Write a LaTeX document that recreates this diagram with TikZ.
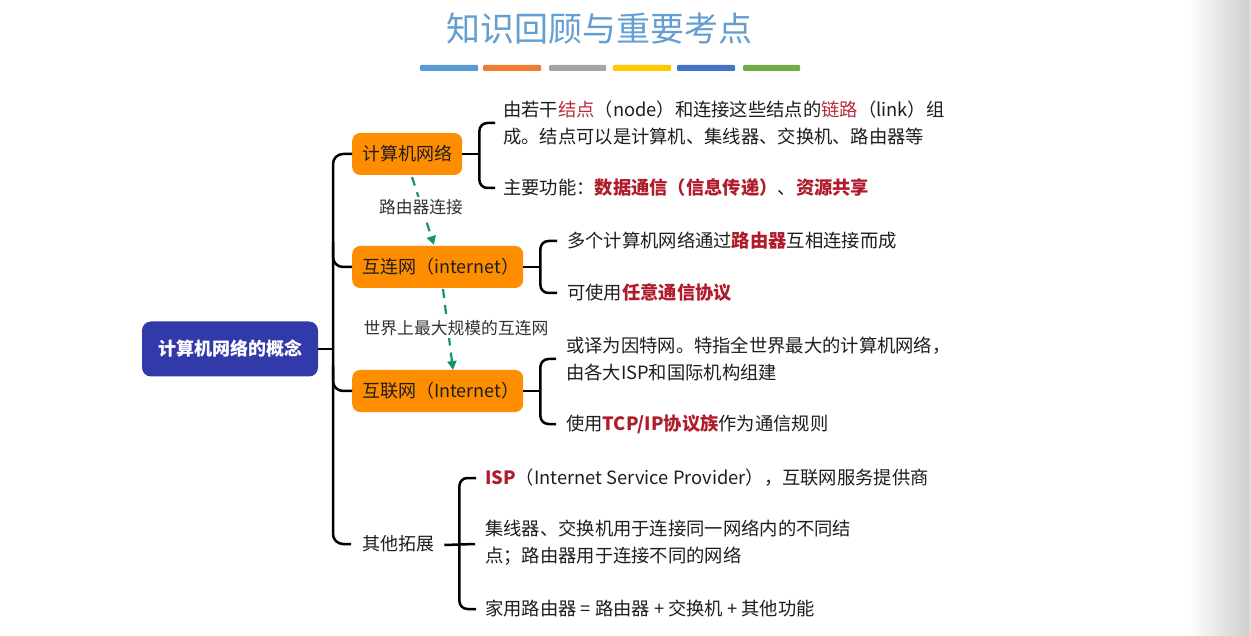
\documentclass[tikz,border=0pt]{standalone}
\usepackage{fontspec}
\setmainfont{Noto Sans CJK SC}
\usetikzlibrary{arrows.meta,calc}
\definecolor{orng}{RGB}{255,141,0}
\definecolor{rootblue}{RGB}{50,57,168}
\definecolor{redt}{RGB}{176,28,44}
\definecolor{redl}{RGB}{184,44,62}
\definecolor{garrow}{RGB}{16,150,112}
\definecolor{titleblue}{RGB}{98,158,210}
\definecolor{txt}{RGB}{30,30,30}
\newcommand{\hlb}[1]{{\bfseries\color{redt}#1}}
\newcommand{\hll}[1]{{\color{redl}#1}}
\begin{document}
\begin{tikzpicture}[x=1pt,y=-1pt,
  conn/.style={line width=2.5pt,draw=black},
  catbox/.style={fill=orng,rounded corners=8pt,minimum height=42pt,inner xsep=10pt,
    font=\fontsize{18}{22}\selectfont,text=txt,anchor=west},
  itemtxt/.style={inner sep=0pt,anchor=west,align=left,text=txt,
    font=\fontsize{18.3}{27}\selectfont},
  lbl/.style={fill=white,inner sep=2pt,text=black!80,font=\fontsize{16.8}{20}\selectfont},
  garr/.style={draw=garrow,line width=2.2pt,dash pattern=on 9pt off 7pt,
    -{Triangle[length=9pt,width=9pt]}}]
\useasboundingbox (0,0) rectangle (1251,636);
\fill[white] (0,0) rectangle (1251,636);
\shade[left color=white,right color=black!19] (1188,0) rectangle (1249,636);
\fill[black!13] (1249,0) rectangle (1251,636);

% title
\node[text=titleblue,font=\fontsize{34}{40}\selectfont,inner sep=0pt] (title) at (599,29) {知识回顾与重要考点};
\fill[rounded corners=1pt,fill={rgb,255:red,91;green,155;blue,213}] (420,65) rectangle (478,71);
\fill[rounded corners=1pt,fill={rgb,255:red,237;green,125;blue,49}] (483,65) rectangle (541,71);
\fill[rounded corners=1pt,fill={rgb,255:red,165;green,165;blue,165}] (549,65) rectangle (606,71);
\fill[rounded corners=1pt,fill={rgb,255:red,255;green,200;blue,0}] (613,65) rectangle (671,71);
\fill[rounded corners=1pt,fill={rgb,255:red,68;green,114;blue,196}] (677,65) rectangle (735,71);
\fill[rounded corners=1pt,fill={rgb,255:red,112;green,173;blue,71}] (743,65) rectangle (800,71);

% root
\node[fill=rootblue,rounded corners=9pt,minimum width=176pt,minimum height=55pt,
  text=white,font=\fontsize{18}{22}\selectfont\bfseries] (root) at (230,349) {计算机网络的概念};

% category nodes
\node[catbox,minimum width=108pt] (n1) at (352,154) {计算机网络};
\node[catbox,text width=151pt,align=left] (n2) at (352,267) {互连网（internet）};
\node[catbox,text width=151pt,align=left] (n3) at (352,391) {互联网（Internet）};
\node[inner sep=0pt,anchor=west,text=txt,font=\fontsize{18}{22}\selectfont] (oth) at (362,544) {其他拓展};

% trunk
\coordinate (tx) at (333,349);
\draw[conn] (root.east) -- (tx);
\draw[conn,rounded corners=10pt] (n1.west) -| ($(oth.west)+(-29,0)$) -- ($(oth.west)+(-11,0)$);
\draw[conn,rounded corners=10pt] ($(n2.west)+(-19,-25)$) |- (n2.west);
\draw[conn,rounded corners=10pt] ($(n3.west)+(-19,-25)$) |- (n3.west);

% item texts
\node[itemtxt] (tA) at (503,123) {由若干\hll{结点}（node）和连接这些结点的\hll{链路}（link）组\\成。结点可以是计算机、集线器、交换机、路由器等};
\node[itemtxt] (tB) at (503,188) {主要功能：\hlb{数据通信（信息传递）}、\hlb{资源共享}};
\node[itemtxt] (tC) at (567,241) {多个计算机网络通过\hlb{路由器}互相连接而成};
\node[itemtxt] (tD) at (567,293) {可使用\hlb{任意通信协议}};
\node[itemtxt] (tE) at (566,359) {或译为因特网。特指全世界最大的计算机网络，\\由各大ISP和国际机构组建};
\node[itemtxt] (tF) at (566,424) {使用\hlb{TCP/IP协议族}作为通信规则};
\node[itemtxt] (tG) at (485,478) {\hlb{ISP}（Internet Service Provider），互联网服务提供商};
\node[itemtxt] (tH) at (485,543) {集线器、交换机用于连接同一网络内的不同结\\点；路由器用于连接不同的网络};
\node[itemtxt] (tI) at (485,609) {家用路由器 = 路由器 + 交换机 + 其他功能};

% braces
\coordinate (b1) at ($(n1.east)+(17,0)$);
\draw[conn] (n1.east) -- (b1);
\draw[conn,rounded corners=8pt] ($(tA.west)+(-8,0)$) -| (b1) |- ($(tB.west)+(-8,0)$);
\coordinate (b2) at ($(n2.east)+(17,0)$);
\draw[conn] (n2.east) -- (b2);
\draw[conn,rounded corners=8pt] ($(tC.west)+(-10,0)$) -| (b2) |- ($(tD.west)+(-10,0)$);
\coordinate (b3) at ($(n3.east)+(17,0)$);
\draw[conn] (n3.east) -- (b3);
\draw[conn,rounded corners=8pt] ($(tE.west)+(-10,0)$) -| (b3) |- ($(tF.west)+(-10,0)$);
\coordinate (b4) at ($(oth.east)+(25,1)$);
\draw[conn] ($(oth.east)+(10,1)$) -- ($(tH.west)+(-10,1)$);
\draw[conn,rounded corners=8pt] ($(tG.west)+(-9,0)$) -| (b4) |- ($(tI.west)+(-9,0)$);

% dashed green arrows with labels
\coordinate (a1s) at (412,177);
\coordinate (a1e) at (434,245);
\draw[garr] (a1s) -- (a1e);
\node[lbl] (l1) at (421,207) {路由器连接};
\coordinate (a2s) at (443,289);
\coordinate (a2e) at (453,370);
\draw[garr] (a2s) -- (a2e);
\node[lbl] (l2) at (456,328) {世界上最大规模的互连网};
\end{tikzpicture}
\end{document}
